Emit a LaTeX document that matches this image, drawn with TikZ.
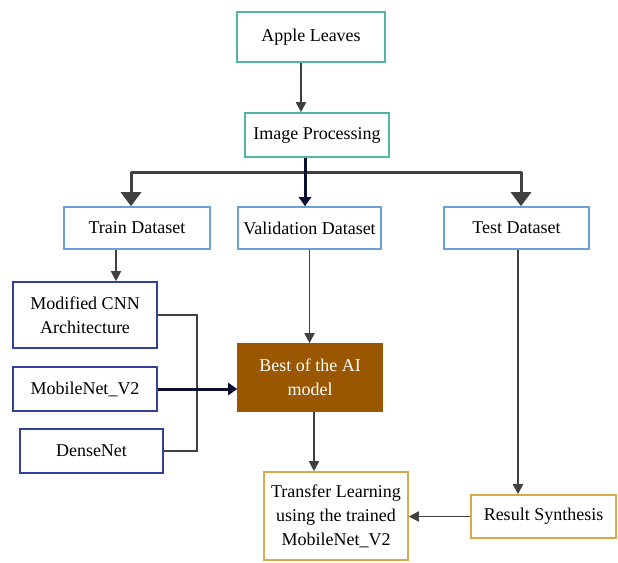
\documentclass[tikz,border=0pt]{standalone}
\usepackage{fontspec}
\setmainfont{Liberation Serif}
\usetikzlibrary{arrows.meta}
\definecolor{tealline}{HTML}{52B5A5}
\definecolor{dataline}{HTML}{6A9FD8}
\definecolor{modelline}{HTML}{3240A0}
\definecolor{bestfill}{HTML}{9A5700}
\definecolor{endline}{HTML}{D9A94A}
\definecolor{flowgray}{HTML}{404040}
\definecolor{busnavy}{HTML}{0A0F30}
\newcommand{\boxfont}{\fontsize{18}{24}\selectfont}
\tikzset{
	box/.style={draw, line width=1.6pt, fill=white, align=center, inner sep=0pt, font=\boxfont},
	topbox/.style={box, draw=tealline},
	databox/.style={box, draw=dataline},
	modelbox/.style={box, draw=modelline},
	bestbox/.style={box, draw=bestfill, fill=bestfill, text=white},
	endbox/.style={box, draw=endline},
	flow/.style={draw=flowgray, line width=1.8pt, -{Triangle[length=10pt,width=10pt]}},
	link/.style={draw=flowgray, line width=1.8pt},
	bus/.style={draw=flowgray, line width=3pt, line join=round, -{Triangle[length=14pt,width=20pt]}},
	navyflow/.style={draw=busnavy, line width=3pt, -{Triangle[length=9pt,width=12pt]}}
}

\begin{document}
\begin{tikzpicture}[x=1pt,y=-1pt]
	\useasboundingbox (0,0) rectangle (618,562);
	\node [topbox, minimum width=148pt, minimum height=50pt] (apple) at (311,37) {Apple Leaves};
	\node [topbox, minimum width=144pt, minimum height=44pt] (imgproc) at (317,135) {Image Processing};
	\node [databox, minimum width=146pt, minimum height=42pt] (train) at (137,228) {Train Dataset};
	\node [databox, minimum width=143pt, minimum height=42pt] (valid) at (309.5,228) {Validation Dataset};
	\node [databox, minimum width=145pt, minimum height=42pt] (test) at (516.5,228) {Test Dataset};
	\node [modelbox, minimum width=144pt, minimum height=66pt] (cnn) at (85,315) {Modified CNN\\Architecture};
	\node [modelbox, minimum width=144pt, minimum height=44pt] (mobile) at (85,389) {MobileNet\_V2};
	\node [modelbox, minimum width=143pt, minimum height=44pt] (dense) at (91.5,451) {DenseNet};
	\node [bestbox, minimum width=144pt, minimum height=67pt] (best) at (310,377.5) {Best of the AI\\model};
	\node [endbox, minimum width=144pt, minimum height=88pt] (transfer) at (336,516) {Transfer Learning\\using the trained\\MobileNet\_V2};
	\node [endbox, minimum width=145pt, minimum height=43pt] (result) at (543.5,516.5) {Result Synthesis};
	\coordinate (split) at (305,172);
	\coordinate (merge) at (197,389);
	\draw [flow] ([xshift=-10pt]apple.south) -- ([xshift=-16pt]imgproc.north);
	\draw [bus] (split) -| ([xshift=-6pt]train.north);
	\draw [bus] (split) -| ([xshift=4.5pt]test.north);
	\draw [navyflow] ([xshift=-12pt]imgproc.south) -- ([xshift=-4.5pt]valid.north);
	\draw [flow] ([xshift=-21pt]train.south) -- ([xshift=31pt]cnn.north);
	\draw [link] (cnn.east) -| (merge) |- (dense.east);
	\draw [navyflow] (mobile.east) -- (mobile.east -| best.west);
	\draw [flow] (valid.south) -- (valid.south |- best.north);
	\draw [flow] ([xshift=4pt]best.south) -- ([xshift=-22pt]transfer.north);
	\draw [flow] ([xshift=1.5pt]test.south) -- ([xshift=-25.5pt]result.north);
	\draw [flow] (result.west) -- (result.west -| transfer.east);
\end{tikzpicture}
\end{document}
